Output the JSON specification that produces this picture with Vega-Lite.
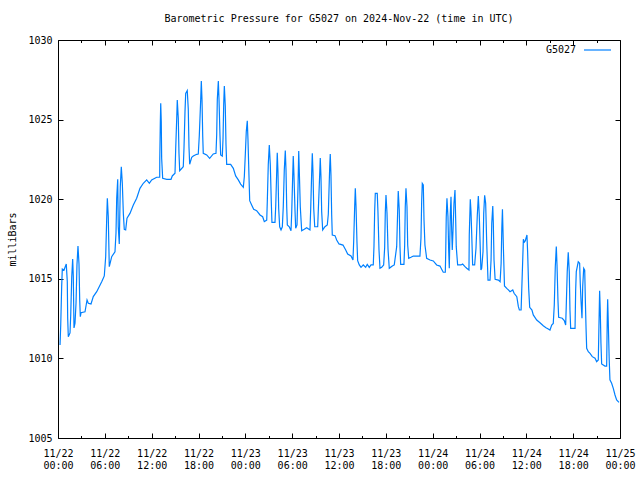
{
  "$schema": "https://vega.github.io/schema/vega-lite/v6.json",
  "width": 562,
  "height": 398,
  "autosize": "none",
  "padding": {"left": 58, "top": 40, "right": 20, "bottom": 42},
  "background": "white",
  "config": {
    "view": {"stroke": null},
    "font": "DejaVu Sans Mono",
    "axis": {"labelFont": "DejaVu Sans Mono", "labelFontSize": 10, "labelColor": "black", "titleFont": "DejaVu Sans Mono", "titleFontSize": 10, "titleFontWeight": "normal", "titleColor": "black", "domainColor": "black", "tickColor": "black", "tickWidth": 1, "domainWidth": 1, "grid": false}
  },
  "title": {"text": "Barometric Pressure for G5027 on 2024-Nov-22 (time in UTC)", "font": "DejaVu Sans Mono", "fontSize": 10, "fontWeight": "normal", "color": "black", "anchor": "middle", "offset": 11},
  "data": {"values": [
{"hour":0.26,"mb":1010.84},{"hour":0.35,"mb":1012.10},{"hour":0.47,"mb":1014.50},{"hour":0.55,"mb":1015.61},{"hour":0.77,"mb":1015.55},{"hour":1.06,"mb":1015.93},{"hour":1.19,"mb":1014.82},{"hour":1.24,"mb":1012.54},{"hour":1.32,"mb":1011.36},{"hour":1.54,"mb":1011.60},{"hour":1.63,"mb":1012.73},{"hour":1.76,"mb":1015.13},{"hour":1.88,"mb":1016.24},{"hour":1.96,"mb":1015.13},{"hour":2.05,"mb":1011.91},{"hour":2.18,"mb":1012.22},{"hour":2.31,"mb":1013.48},{"hour":2.43,"mb":1015.87},{"hour":2.56,"mb":1017.06},{"hour":2.69,"mb":1015.93},{"hour":2.78,"mb":1013.67},{"hour":2.86,"mb":1012.62},{"hour":2.95,"mb":1012.87},{"hour":3.46,"mb":1012.93},{"hour":3.72,"mb":1013.67},{"hour":3.88,"mb":1013.46},{"hour":4.23,"mb":1013.42},{"hour":4.52,"mb":1013.88},{"hour":4.96,"mb":1014.19},{"hour":5.60,"mb":1014.82},{"hour":5.93,"mb":1015.18},{"hour":6.11,"mb":1016.39},{"hour":6.24,"mb":1018.80},{"hour":6.32,"mb":1020.06},{"hour":6.44,"mb":1018.90},{"hour":6.57,"mb":1015.76},{"hour":6.88,"mb":1016.39},{"hour":7.30,"mb":1016.70},{"hour":7.43,"mb":1017.88},{"hour":7.52,"mb":1020.06},{"hour":7.65,"mb":1021.25},{"hour":7.72,"mb":1018.27},{"hour":7.85,"mb":1017.19},{"hour":7.98,"mb":1020.79},{"hour":8.11,"mb":1022.04},{"hour":8.24,"mb":1021.00},{"hour":8.37,"mb":1019.11},{"hour":8.49,"mb":1018.11},{"hour":8.67,"mb":1018.07},{"hour":8.84,"mb":1018.80},{"hour":9.22,"mb":1019.11},{"hour":9.65,"mb":1019.64},{"hour":10.08,"mb":1020.06},{"hour":10.50,"mb":1020.68},{"hour":10.93,"mb":1021.00},{"hour":11.36,"mb":1021.21},{"hour":11.70,"mb":1021.00},{"hour":12.00,"mb":1021.21},{"hour":12.64,"mb":1021.38},{"hour":13.03,"mb":1021.38},{"hour":13.04,"mb":1022.57},{"hour":13.11,"mb":1024.87},{"hour":13.16,"mb":1026.02},{"hour":13.23,"mb":1024.87},{"hour":13.28,"mb":1022.57},{"hour":13.41,"mb":1021.31},{"hour":13.93,"mb":1021.25},{"hour":14.48,"mb":1021.25},{"hour":14.64,"mb":1021.46},{"hour":14.99,"mb":1021.63},{"hour":15.08,"mb":1023.20},{"hour":15.21,"mb":1025.08},{"hour":15.28,"mb":1026.23},{"hour":15.41,"mb":1025.08},{"hour":15.50,"mb":1022.88},{"hour":15.59,"mb":1021.79},{"hour":16.05,"mb":1022.04},{"hour":16.14,"mb":1023.20},{"hour":16.27,"mb":1025.50},{"hour":16.36,"mb":1026.65},{"hour":16.56,"mb":1026.82},{"hour":16.69,"mb":1025.65},{"hour":16.78,"mb":1023.30},{"hour":16.87,"mb":1022.19},{"hour":17.13,"mb":1022.63},{"hour":17.33,"mb":1022.71},{"hour":17.77,"mb":1022.82},{"hour":17.97,"mb":1022.84},{"hour":18.10,"mb":1023.97},{"hour":18.28,"mb":1026.23},{"hour":18.36,"mb":1027.42},{"hour":18.45,"mb":1026.23},{"hour":18.54,"mb":1023.97},{"hour":18.61,"mb":1022.88},{"hour":19.05,"mb":1022.78},{"hour":19.43,"mb":1022.57},{"hour":19.89,"mb":1022.84},{"hour":20.24,"mb":1022.88},{"hour":20.33,"mb":1024.03},{"hour":20.41,"mb":1026.27},{"hour":20.54,"mb":1027.42},{"hour":20.63,"mb":1026.23},{"hour":20.75,"mb":1024.03},{"hour":20.84,"mb":1022.78},{"hour":21.05,"mb":1022.71},{"hour":21.14,"mb":1023.76},{"hour":21.23,"mb":1025.98},{"hour":21.31,"mb":1027.11},{"hour":21.43,"mb":1025.85},{"hour":21.52,"mb":1023.47},{"hour":21.61,"mb":1022.19},{"hour":22.12,"mb":1022.19},{"hour":22.46,"mb":1021.94},{"hour":22.76,"mb":1021.46},{"hour":23.10,"mb":1021.21},{"hour":23.40,"mb":1020.95},{"hour":23.74,"mb":1020.75},{"hour":23.87,"mb":1021.41},{"hour":24.00,"mb":1022.84},{"hour":24.12,"mb":1024.24},{"hour":24.25,"mb":1024.93},{"hour":24.34,"mb":1023.72},{"hour":24.47,"mb":1021.41},{"hour":24.56,"mb":1019.91},{"hour":24.81,"mb":1019.64},{"hour":25.07,"mb":1019.37},{"hour":25.45,"mb":1019.28},{"hour":25.88,"mb":1019.01},{"hour":26.22,"mb":1018.90},{"hour":26.43,"mb":1018.59},{"hour":26.74,"mb":1018.69},{"hour":26.81,"mb":1019.78},{"hour":26.94,"mb":1022.19},{"hour":27.07,"mb":1023.40},{"hour":27.20,"mb":1022.15},{"hour":27.33,"mb":1019.74},{"hour":27.41,"mb":1018.55},{"hour":27.80,"mb":1018.55},{"hour":27.89,"mb":1019.53},{"hour":28.02,"mb":1021.73},{"hour":28.09,"mb":1022.92},{"hour":28.18,"mb":1021.73},{"hour":28.27,"mb":1019.43},{"hour":28.40,"mb":1018.27},{"hour":28.57,"mb":1018.07},{"hour":28.74,"mb":1018.27},{"hour":28.86,"mb":1019.53},{"hour":28.99,"mb":1021.83},{"hour":29.12,"mb":1023.05},{"hour":29.21,"mb":1021.83},{"hour":29.30,"mb":1019.53},{"hour":29.38,"mb":1018.38},{"hour":29.63,"mb":1018.27},{"hour":29.85,"mb":1018.02},{"hour":29.94,"mb":1019.11},{"hour":30.07,"mb":1021.52},{"hour":30.14,"mb":1022.71},{"hour":30.23,"mb":1021.52},{"hour":30.36,"mb":1019.32},{"hour":30.45,"mb":1018.17},{"hour":30.62,"mb":1018.38},{"hour":30.75,"mb":1020.79},{"hour":30.84,"mb":1023.03},{"hour":30.91,"mb":1021.83},{"hour":31.04,"mb":1019.53},{"hour":31.22,"mb":1018.02},{"hour":31.55,"mb":1018.11},{"hour":31.86,"mb":1018.21},{"hour":32.28,"mb":1018.07},{"hour":32.37,"mb":1019.32},{"hour":32.50,"mb":1021.66},{"hour":32.58,"mb":1022.88},{"hour":32.67,"mb":1021.66},{"hour":32.76,"mb":1019.43},{"hour":32.89,"mb":1018.27},{"hour":33.27,"mb":1018.27},{"hour":33.35,"mb":1019.32},{"hour":33.52,"mb":1021.46},{"hour":33.60,"mb":1022.59},{"hour":33.69,"mb":1021.41},{"hour":33.78,"mb":1019.22},{"hour":33.91,"mb":1018.07},{"hour":34.20,"mb":1018.27},{"hour":34.50,"mb":1018.38},{"hour":34.63,"mb":1019.05},{"hour":34.72,"mb":1020.58},{"hour":34.81,"mb":1022.04},{"hour":34.88,"mb":1022.84},{"hour":34.97,"mb":1021.52},{"hour":35.06,"mb":1019.05},{"hour":35.14,"mb":1017.75},{"hour":35.49,"mb":1017.71},{"hour":35.70,"mb":1017.44},{"hour":36.00,"mb":1017.19},{"hour":36.51,"mb":1017.12},{"hour":36.86,"mb":1016.81},{"hour":37.11,"mb":1016.56},{"hour":37.54,"mb":1016.43},{"hour":37.79,"mb":1016.18},{"hour":37.88,"mb":1017.33},{"hour":38.01,"mb":1019.57},{"hour":38.09,"mb":1020.68},{"hour":38.18,"mb":1019.57},{"hour":38.30,"mb":1017.33},{"hour":38.39,"mb":1016.14},{"hour":38.60,"mb":1015.87},{"hour":38.82,"mb":1015.72},{"hour":39.11,"mb":1015.87},{"hour":39.42,"mb":1015.72},{"hour":39.62,"mb":1015.91},{"hour":39.88,"mb":1015.72},{"hour":40.10,"mb":1015.87},{"hour":40.39,"mb":1015.87},{"hour":40.48,"mb":1017.02},{"hour":40.57,"mb":1019.26},{"hour":40.65,"mb":1020.37},{"hour":40.90,"mb":1020.37},{"hour":40.99,"mb":1019.22},{"hour":41.12,"mb":1016.85},{"hour":41.25,"mb":1015.66},{"hour":41.47,"mb":1015.72},{"hour":41.72,"mb":1015.87},{"hour":41.85,"mb":1016.95},{"hour":41.93,"mb":1019.15},{"hour":42.02,"mb":1020.26},{"hour":42.15,"mb":1019.11},{"hour":42.28,"mb":1016.85},{"hour":42.44,"mb":1015.66},{"hour":42.83,"mb":1015.80},{"hour":43.08,"mb":1015.87},{"hour":43.39,"mb":1017.02},{"hour":43.52,"mb":1019.32},{"hour":43.59,"mb":1020.51},{"hour":43.72,"mb":1019.32},{"hour":43.81,"mb":1017.06},{"hour":43.90,"mb":1015.91},{"hour":44.32,"mb":1015.91},{"hour":44.41,"mb":1017.06},{"hour":44.49,"mb":1019.53},{"hour":44.58,"mb":1020.68},{"hour":44.71,"mb":1019.53},{"hour":44.80,"mb":1017.12},{"hour":44.93,"mb":1016.29},{"hour":45.22,"mb":1016.35},{"hour":45.52,"mb":1016.43},{"hour":46.37,"mb":1016.43},{"hour":46.50,"mb":1017.54},{"hour":46.59,"mb":1019.84},{"hour":46.67,"mb":1020.99},{"hour":46.80,"mb":1020.89},{"hour":46.89,"mb":1018.69},{"hour":47.01,"mb":1017.12},{"hour":47.23,"mb":1016.29},{"hour":47.66,"mb":1016.18},{"hour":48.08,"mb":1016.12},{"hour":48.51,"mb":1015.87},{"hour":48.94,"mb":1015.80},{"hour":49.15,"mb":1015.60},{"hour":49.36,"mb":1015.41},{"hour":49.62,"mb":1015.41},{"hour":49.67,"mb":1016.60},{"hour":49.74,"mb":1018.86},{"hour":49.83,"mb":1020.06},{"hour":49.96,"mb":1018.90},{"hour":50.05,"mb":1016.81},{"hour":50.13,"mb":1015.66},{"hour":50.26,"mb":1019.11},{"hour":50.35,"mb":1020.16},{"hour":50.44,"mb":1017.96},{"hour":50.51,"mb":1016.81},{"hour":50.60,"mb":1017.96},{"hour":50.73,"mb":1019.74},{"hour":50.86,"mb":1020.58},{"hour":50.95,"mb":1018.69},{"hour":51.02,"mb":1017.02},{"hour":51.20,"mb":1015.87},{"hour":51.63,"mb":1015.87},{"hour":51.84,"mb":1015.93},{"hour":52.14,"mb":1015.76},{"hour":52.36,"mb":1015.66},{"hour":52.65,"mb":1015.55},{"hour":52.69,"mb":1017.75},{"hour":52.82,"mb":1020.00},{"hour":52.91,"mb":1019.22},{"hour":53.00,"mb":1017.86},{"hour":53.12,"mb":1015.87},{"hour":53.38,"mb":1015.87},{"hour":53.55,"mb":1016.92},{"hour":53.72,"mb":1019.01},{"hour":53.85,"mb":1020.20},{"hour":53.97,"mb":1019.01},{"hour":54.18,"mb":1015.55},{"hour":54.28,"mb":1015.66},{"hour":54.45,"mb":1016.70},{"hour":54.54,"mb":1019.11},{"hour":54.66,"mb":1020.24},{"hour":54.79,"mb":1019.74},{"hour":54.92,"mb":1017.33},{"hour":55.09,"mb":1014.92},{"hour":55.35,"mb":1014.92},{"hour":55.48,"mb":1016.18},{"hour":55.57,"mb":1018.49},{"hour":55.70,"mb":1019.57},{"hour":55.77,"mb":1018.49},{"hour":55.86,"mb":1016.18},{"hour":56.00,"mb":1014.97},{"hour":56.42,"mb":1014.92},{"hour":56.64,"mb":1014.82},{"hour":56.77,"mb":1015.97},{"hour":56.86,"mb":1018.21},{"hour":56.94,"mb":1019.37},{"hour":57.07,"mb":1016.81},{"hour":57.20,"mb":1014.55},{"hour":57.49,"mb":1014.40},{"hour":57.70,"mb":1014.30},{"hour":57.91,"mb":1014.19},{"hour":58.26,"mb":1014.30},{"hour":58.43,"mb":1014.09},{"hour":58.78,"mb":1013.88},{"hour":58.98,"mb":1013.25},{"hour":59.11,"mb":1013.04},{"hour":59.33,"mb":1013.04},{"hour":59.42,"mb":1014.40},{"hour":59.55,"mb":1016.39},{"hour":59.62,"mb":1017.48},{"hour":59.75,"mb":1017.31},{"hour":59.88,"mb":1017.39},{"hour":59.95,"mb":1017.54},{"hour":60.08,"mb":1017.75},{"hour":60.17,"mb":1016.62},{"hour":60.30,"mb":1014.40},{"hour":60.43,"mb":1013.21},{"hour":60.72,"mb":1013.04},{"hour":60.89,"mb":1012.73},{"hour":61.33,"mb":1012.41},{"hour":61.75,"mb":1012.24},{"hour":62.17,"mb":1012.05},{"hour":62.52,"mb":1011.93},{"hour":62.81,"mb":1011.85},{"hour":63.03,"mb":1011.78},{"hour":63.25,"mb":1012.10},{"hour":63.45,"mb":1012.20},{"hour":63.58,"mb":1013.35},{"hour":63.71,"mb":1015.76},{"hour":63.84,"mb":1017.02},{"hour":63.93,"mb":1015.87},{"hour":64.05,"mb":1013.67},{"hour":64.14,"mb":1012.58},{"hour":64.60,"mb":1012.52},{"hour":64.86,"mb":1012.37},{"hour":65.04,"mb":1012.10},{"hour":65.11,"mb":1013.21},{"hour":65.24,"mb":1015.45},{"hour":65.37,"mb":1016.66},{"hour":65.50,"mb":1015.45},{"hour":65.59,"mb":1013.04},{"hour":65.68,"mb":1011.89},{"hour":66.24,"mb":1011.89},{"hour":66.32,"mb":1014.30},{"hour":66.40,"mb":1015.45},{"hour":66.65,"mb":1016.07},{"hour":66.83,"mb":1015.97},{"hour":66.91,"mb":1014.72},{"hour":67.00,"mb":1013.67},{"hour":67.13,"mb":1012.52},{"hour":67.22,"mb":1014.50},{"hour":67.35,"mb":1015.66},{"hour":67.48,"mb":1015.55},{"hour":67.56,"mb":1013.67},{"hour":67.65,"mb":1011.89},{"hour":67.73,"mb":1010.63},{"hour":67.94,"mb":1010.42},{"hour":68.16,"mb":1010.32},{"hour":68.45,"mb":1010.11},{"hour":68.80,"mb":1010.01},{"hour":69.01,"mb":1009.79},{"hour":69.22,"mb":1009.90},{"hour":69.30,"mb":1011.99},{"hour":69.39,"mb":1014.25},{"hour":69.47,"mb":1013.04},{"hour":69.56,"mb":1010.95},{"hour":69.65,"mb":1009.65},{"hour":70.07,"mb":1009.52},{"hour":70.29,"mb":1009.52},{"hour":70.37,"mb":1012.62},{"hour":70.42,"mb":1013.71},{"hour":70.49,"mb":1012.41},{"hour":70.62,"mb":1009.90},{"hour":70.71,"mb":1008.65},{"hour":70.93,"mb":1008.44},{"hour":71.14,"mb":1008.12},{"hour":71.36,"mb":1007.70},{"hour":71.57,"mb":1007.39},{"hour":71.87,"mb":1007.24}
  ]},
  "resolve": {"axis": {"x": "independent", "y": "independent"}},
  "layer": [
    {
      "mark": {"type": "line", "strokeWidth": 1.2, "interpolate": "linear"},
      "encoding": {
        "x": {"field": "hour", "type": "quantitative", "scale": {"domain": [0, 72], "nice": false, "zero": false},
          "axis": {"orient": "bottom", "title": null, "values": [0,6,12,18,24,30,36,42,48,54,60,66,72], "tickSize": -5, "labelPadding": 15, "labelLineHeight": 12, "labelBaseline": "top", "labelFlush": false, "labelOverlap": false,
            "labelExpr": "['11/' + (22 + floor(datum.value / 24)), (datum.value % 24 < 10 ? '0' : '') + (datum.value % 24) + ':00']"}},
        "y": {"field": "mb", "type": "quantitative", "scale": {"domain": [1005, 1030], "nice": false, "zero": false},
          "axis": {"orient": "left", "title": "milliBars", "format": "d", "values": [1005,1010,1015,1020,1025,1030], "tickSize": -5, "labelPadding": 11, "titlePadding": 10}},
        "color": {"datum": "G5027", "type": "nominal", "scale": {"range": ["#0080ff"]},
          "legend": {"title": null, "orient": "none", "legendX": 525, "legendY": -4.5, "padding": 0, "symbolType": "stroke", "symbolSize": 729, "symbolStrokeWidth": 1.2, "labelAlign": "right", "labelOffset": -36, "labelFont": "DejaVu Sans Mono", "labelFontSize": 10, "labelColor": "black"}}
      }
    },
    {
      "mark": {"type": "point", "opacity": 0},
      "encoding": {
        "x": {"field": "hour", "type": "quantitative", "axis": {"orient": "top", "title": null, "labels": false, "values": [0,6,12,18,24,30,36,42,48,54,60,66,72], "tickSize": -5}},
        "y": {"field": "mb", "type": "quantitative", "axis": {"orient": "right", "title": null, "labels": false, "values": [1005,1010,1015,1020,1025,1030], "tickSize": -5}}
      }
    },
    {
      "mark": {"type": "point", "opacity": 0},
      "encoding": {
        "x": {"field": "hour", "type": "quantitative", "axis": {"orient": "bottom", "title": null, "labels": false, "domain": false, "values": [3,9,15,21,27,33,39,45,51,57,63,69], "tickSize": -2.5}},
        "y": {"field": "mb", "type": "quantitative", "axis": null}
      }
    },
    {
      "mark": {"type": "point", "opacity": 0},
      "encoding": {
        "x": {"field": "hour", "type": "quantitative", "axis": {"orient": "top", "title": null, "labels": false, "domain": false, "values": [3,9,15,21,27,33,39,45,51,57,63,69], "tickSize": -2.5}},
        "y": {"field": "mb", "type": "quantitative", "axis": null}
      }
    }
  ]
}
